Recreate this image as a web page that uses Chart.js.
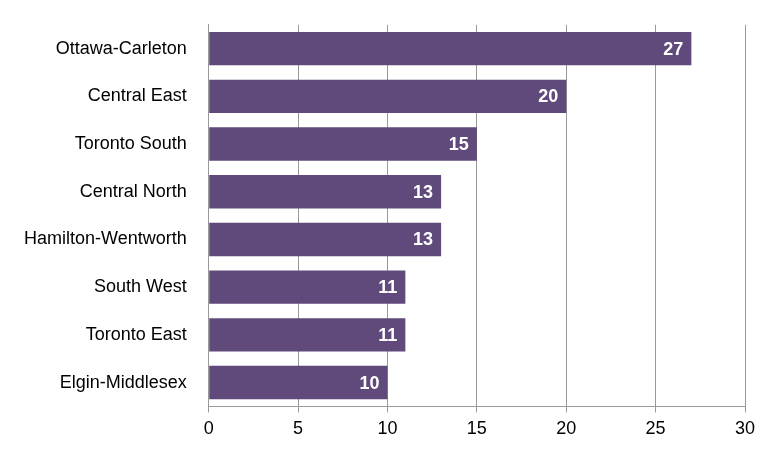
<!DOCTYPE html>
<html>
<head>
<meta charset="utf-8">
<script src="https://cdn.jsdelivr.net/npm/chart.js@4"></script>
<style>
  html, body { margin: 0; padding: 0; background: #fff; }
  #wrap { width: 781px; height: 454px; }
</style>
</head>
<body>
<div id="wrap"><canvas id="myChart"></canvas></div>
<script>
const categories = ["Ottawa-Carleton", "Central East", "Toronto South", "Central North",
  "Hamilton-Wentworth", "South West", "Toronto East", "Elgin-Middlesex"];
const values = [27, 20, 15, 13, 13, 11, 11, 10];

// white value labels at the inner end of each bar
const barLabels = {
  id: "barLabels",
  afterDatasetsDraw(chart) {
    const ctx = chart.ctx;
    const meta = chart.getDatasetMeta(0);
    ctx.save();
    ctx.fillStyle = "#ffffff";
    ctx.font = "bold 18px 'Liberation Sans', Arial, sans-serif";
    ctx.textAlign = "right";
    ctx.textBaseline = "middle";
    meta.data.forEach((bar, i) => {
      ctx.fillText(values[i], bar.x - 8, bar.y + 1);
    });
    ctx.restore();
  },
};

new Chart(document.getElementById("myChart"), {
  type: "bar",
  data: {
    labels: categories,
    datasets: [{
      data: values,
      backgroundColor: "#5f4a7b",
      categoryPercentage: 0.7,
      barPercentage: 1.0,
    }],
  },
  options: {
    indexAxis: "y",
    responsive: true,
    maintainAspectRatio: false,
    animation: false,
    layout: { padding: { top: 22, right: 36, bottom: 8, left: 10 } },
    scales: {
      x: {
        min: 0,
        max: 30,
        ticks: {
          stepSize: 5,
          color: "#000",
          font: { size: 18, family: "'Liberation Sans', Arial, sans-serif" },
          padding: 6,
        },
        grid: { color: "#999", tickLength: 6 },
        border: { color: "#999" },
      },
      y: {
        ticks: {
          color: "#000",
          font: { size: 18, family: "'Liberation Sans', Arial, sans-serif" },
          padding: 14,
        },
        grid: { display: false },
        border: { color: "#999" },
      },
    },
    plugins: {
      legend: { display: false },
      tooltip: { enabled: false },
    },
  },
  plugins: [barLabels],
});
</script>
</body>
</html>
